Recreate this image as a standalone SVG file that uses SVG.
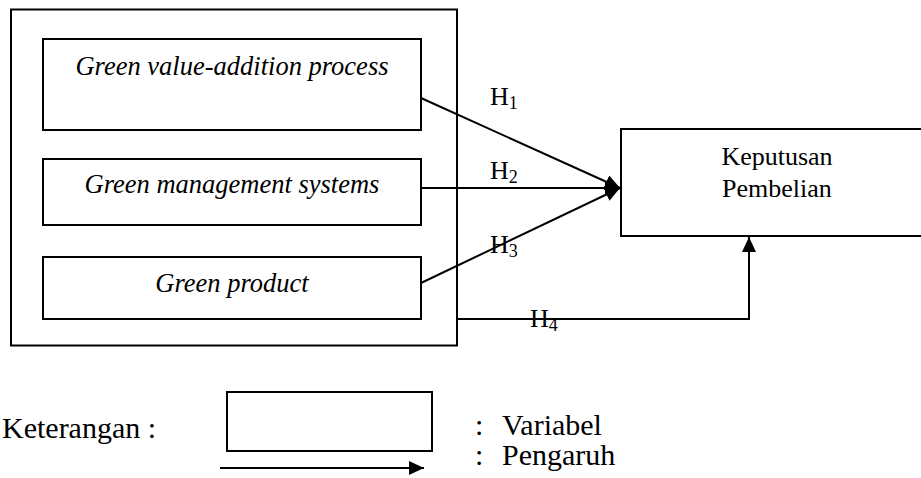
<svg xmlns="http://www.w3.org/2000/svg" width="921" height="478" viewBox="0 0 921 478">
<style>
.box{fill:none;stroke:#000;stroke-width:2}
.ln{fill:none;stroke:#000;stroke-width:2}
text{font-family:"Liberation Serif","DejaVu Serif","Times New Roman",serif;fill:#000}
.it{font-style:italic;font-size:26.5px;text-anchor:middle}
.rg{font-size:26px}
.lg{font-size:30px}
.sub{font-size:18px}
</style>
<defs>
<marker id="ah" markerUnits="userSpaceOnUse" markerWidth="16" markerHeight="14" refX="15" refY="7" orient="auto">
<path d="M0,0 L15,7 L0,14 z" fill="#000"/>
</marker>
</defs>
<rect width="921" height="478" fill="#fff"/>
<g id="outer"><rect class="box" x="11" y="9.5" width="446" height="336"/></g>
<g id="n1"><rect class="box" x="43" y="39" width="378" height="91"/><text class="it" x="232" y="75">Green value-addition process</text></g>
<g id="n2"><rect class="box" x="43" y="159" width="378" height="66"/><text class="it" x="232" y="193">Green management systems</text></g>
<g id="n3"><rect class="box" x="43" y="257" width="378" height="62"/><text class="it" x="232" y="292">Green product</text></g>
<g id="n4"><rect class="box" x="621" y="129" width="320" height="107"/><text class="rg" x="777" y="165" text-anchor="middle">Keputusan</text><text class="rg" x="777" y="197" text-anchor="middle">Pembelian</text></g>
<g id="connectors">
<line class="ln" x1="421" y1="98" x2="620" y2="188" marker-end="url(#ah)"/>
<line class="ln" x1="421" y1="188" x2="620" y2="188" marker-end="url(#ah)"/>
<line class="ln" x1="421" y1="283" x2="620" y2="188" marker-end="url(#ah)"/>
<polyline class="ln" points="457,319 749,319 749,237" marker-end="url(#ah)"/>
</g>
<g id="labels">
<text class="rg" x="490" y="105">H<tspan class="sub" dy="4">1</tspan></text>
<text class="rg" x="490" y="179">H<tspan class="sub" dy="4">2</tspan></text>
<text class="rg" x="490" y="253">H<tspan class="sub" dy="4">3</tspan></text>
<text class="rg" x="530" y="327">H<tspan class="sub" dy="4">4</tspan></text>
</g>
<g id="legend">
<text class="lg" x="2" y="438">Keterangan :</text>
<rect class="box" x="227" y="392" width="205" height="59"/>
<line class="ln" x1="220" y1="468" x2="424" y2="468" marker-end="url(#ah)"/>
<text class="lg" x="475" y="435">:<tspan x="502">Variabel</tspan></text>
<text class="lg" x="475" y="465">:<tspan x="502">Pengaruh</tspan></text>
</g>
</svg>
